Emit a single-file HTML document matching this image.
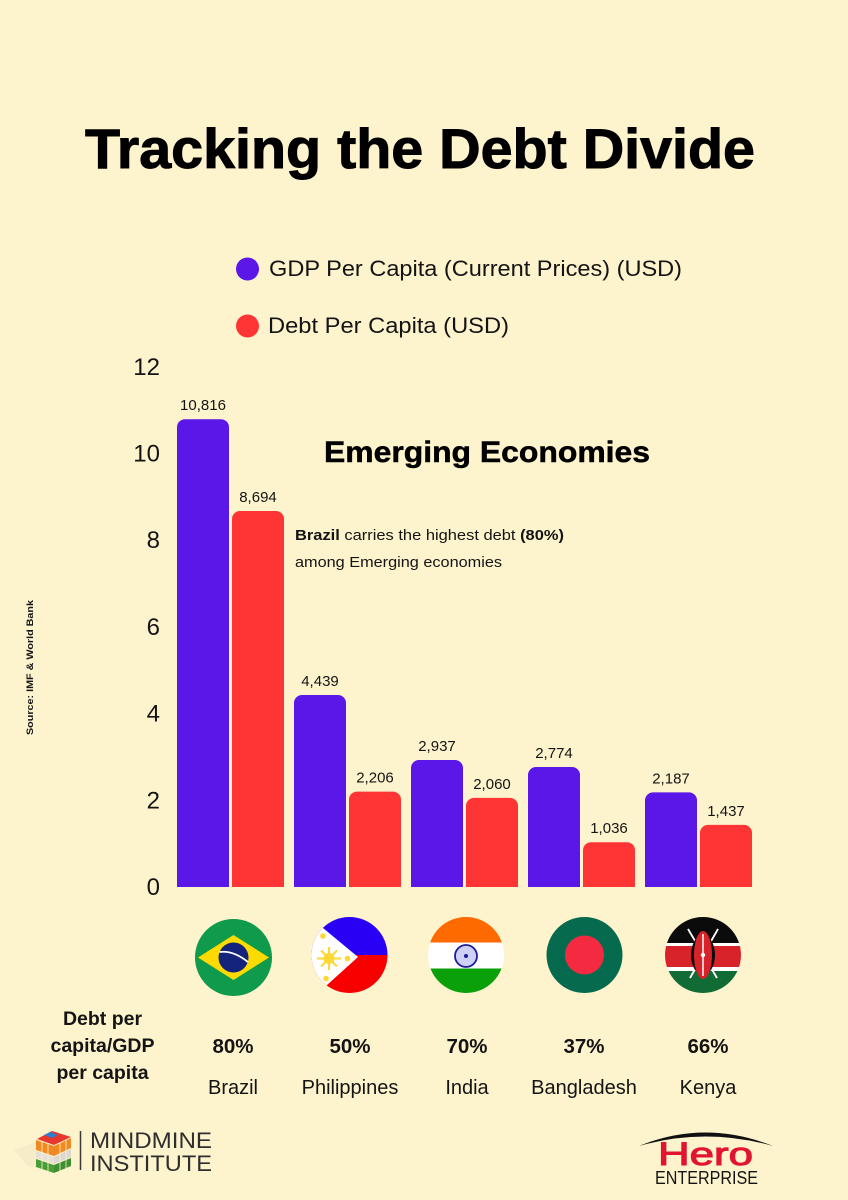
<!DOCTYPE html>
<html lang="en">
<head>
<meta charset="utf-8">
<title>Tracking the Debt Divide</title>
<style>
html,body{margin:0;padding:0;background:#fdf3cd;}
svg{display:block;}
text{font-family:"Liberation Sans",sans-serif;fill:#141414;}
.bold{font-weight:700;}
</style>
</head>
<body>
<svg id="chart" width="848" height="1200" viewBox="0 0 848 1200" xmlns="http://www.w3.org/2000/svg">
<rect width="848" height="1200" fill="#fdf3cd"/>
<text class="bold" x="85" y="168" font-size="56" textLength="670" lengthAdjust="spacingAndGlyphs" stroke="#000" stroke-width="1" style="fill:#000">Tracking the Debt Divide</text>

<g>
<circle cx="247.500" cy="269" r="11.500" fill="#5a17e8"/>
<text x="269" y="276" font-size="22" textLength="413" lengthAdjust="spacingAndGlyphs">GDP Per Capita (Current Prices) (USD)</text>
<circle cx="247.500" cy="326" r="11.500" fill="#ff3434"/>
<text x="268" y="333" font-size="22" textLength="241" lengthAdjust="spacingAndGlyphs">Debt Per Capita (USD)</text>
</g>

<g id="y-axis"></g>
<g id="bars"></g>
<g id="bar-labels"></g>
<g id="ratios"></g>
<g id="countries"></g>

<text class="bold" x="324" y="462" font-size="30" textLength="326" lengthAdjust="spacingAndGlyphs" stroke="#000" stroke-width="0.5" style="fill:#000">Emerging Economies</text>
<text x="295" y="540" font-size="15" textLength="269" lengthAdjust="spacingAndGlyphs"><tspan class="bold">Brazil</tspan> carries the highest debt <tspan class="bold">(80%)</tspan></text>
<text x="295" y="567" font-size="15" textLength="207" lengthAdjust="spacingAndGlyphs">among Emerging economies</text>
<text class="bold" transform="translate(33 735) rotate(-90)" font-size="9.500" textLength="135" lengthAdjust="spacingAndGlyphs">Source: IMF &amp; World Bank</text>

<defs>
<clipPath id="clip-ph"><circle cx="349.500" cy="955" r="38"/></clipPath>
<clipPath id="clip-in"><circle cx="466" cy="955" r="38"/></clipPath>
<clipPath id="clip-ke"><circle cx="703" cy="955" r="38"/></clipPath>
</defs>

<g>
<circle cx="233.500" cy="957.500" r="38.500" fill="#0f9a4c"/>
<polygon points="198,957.500 233.500,935 269,957.500 233.500,980" fill="#fedb00"/>
<circle cx="233.500" cy="957.500" r="15" fill="#14247c"/>
<path d="M219.500,952 Q233,950 248,962" stroke="#fff" stroke-width="1.800" fill="none"/>
</g>

<g clip-path="url(#clip-ph)">
<rect x="311" y="917" width="78" height="38" fill="#2a00f5"/>
<rect x="311" y="955" width="78" height="38" fill="#f90000"/>
<polygon points="311,917 323,928 358,957 327,985 311,993" fill="#fff"/>
<g stroke="#fdd835" stroke-width="2">
<line x1="317" y1="958.500" x2="341" y2="958.500"/>
<line x1="329" y1="947" x2="329" y2="970"/>
<line x1="321" y1="950.500" x2="337" y2="966.500"/>
<line x1="337" y1="950.500" x2="321" y2="966.500"/>
</g>
<circle cx="329" cy="958.500" r="5.500" fill="#fdd835"/>
<circle cx="323" cy="936" r="2.800" fill="#fdd835"/>
<circle cx="347.500" cy="958.500" r="2.800" fill="#fdd835"/>
<circle cx="326" cy="978.500" r="2.800" fill="#fdd835"/>
</g>

<g clip-path="url(#clip-in)">
<rect x="428" y="917" width="76" height="25.500" fill="#ff6a00"/>
<rect x="428" y="942.500" width="76" height="26" fill="#fff"/>
<rect x="428" y="968.500" width="76" height="25" fill="#09a009"/>
<circle cx="466" cy="956" r="11" fill="#cfd0f5" stroke="#1a1a9c" stroke-width="1.800"/>
<circle cx="466" cy="956" r="2" fill="#1a1a9c"/>
</g>

<g>
<circle cx="584.500" cy="955" r="38" fill="#066a4f"/>
<circle cx="584.500" cy="955" r="19.500" fill="#f42a41"/>
</g>

<g clip-path="url(#clip-ke)">
<rect x="665" y="917" width="76" height="26" fill="#0b0b0b"/>
<rect x="665" y="943" width="76" height="3" fill="#fff"/>
<rect x="665" y="946" width="76" height="21" fill="#d8232a"/>
<rect x="665" y="967" width="76" height="4" fill="#fff"/>
<rect x="665" y="971" width="76" height="22" fill="#116b35"/>
<line x1="688" y1="929" x2="717" y2="978" stroke="#fff" stroke-width="1.800"/>
<line x1="718" y1="929" x2="690" y2="978" stroke="#fff" stroke-width="1.800"/>
<ellipse cx="703" cy="955" rx="12" ry="20" fill="#0b0b0b"/>
<ellipse cx="703" cy="955" rx="9" ry="24" fill="#d8232a"/>
<line x1="703" y1="934" x2="703" y2="976" stroke="#fff" stroke-width="1.500"/>
<circle cx="703" cy="955" r="2.200" fill="#fff"/>
</g>

<g>
<text class="bold" x="102.500" y="1025" font-size="19.500" text-anchor="middle">Debt per</text>
<text class="bold" x="102.500" y="1052" font-size="19.500" text-anchor="middle">capita/GDP</text>
<text class="bold" x="102.500" y="1079" font-size="19.500" text-anchor="middle">per capita</text>
</g>

<g>
<polygon points="14,1150 36,1142 36,1168 28,1166" fill="#f6ecc8"/>
<polygon points="37,1139 52,1131 71,1137 54,1145" fill="#e8372c"/>
<polygon points="44,1135 50,1132 58,1135 52,1138" fill="#2f7fd0"/>
<polygon points="36,1140 54,1146 54,1156 36,1150" fill="#ef8a22"/>
<polygon points="54,1146 71,1138 71,1148 54,1156" fill="#ef8a22"/>
<polygon points="36,1151 54,1157 54,1164 36,1158" fill="#e6e1d6"/>
<polygon points="54,1157 71,1149 71,1157 54,1164" fill="#dcd8cf"/>
<polygon points="36,1159 54,1165 54,1173 36,1167" fill="#4a9e37"/>
<polygon points="54,1165 71,1158 71,1166 54,1173" fill="#3f9030"/>
<g stroke="#fdf3cd" stroke-width="0.800">
<line x1="42" y1="1142" x2="42" y2="1169"/>
<line x1="48" y1="1144" x2="48" y2="1171"/>
<line x1="60" y1="1143" x2="60" y2="1171"/>
<line x1="66" y1="1140" x2="66" y2="1168"/>
</g>
<line x1="80.500" y1="1131" x2="80.500" y2="1170" stroke="#3a3a3a" stroke-width="1.500"/>
<text x="90" y="1148" font-size="22" textLength="122" lengthAdjust="spacingAndGlyphs" style="fill:#2e2e2e">MINDMINE</text>
<text x="90" y="1171" font-size="22" textLength="122" lengthAdjust="spacingAndGlyphs" style="fill:#2e2e2e">INSTITUTE</text>
</g>

<g>
<path d="M639,1146 Q705,1119 773,1146 Q705,1127 639,1146 Z" fill="#111"/>
<text x="658" y="1165" font-size="32" textLength="95" lengthAdjust="spacingAndGlyphs" stroke="#e2152f" stroke-width="1" style="fill:#e2152f">Hero</text>
<text x="655" y="1184" font-size="18" textLength="103" lengthAdjust="spacingAndGlyphs">ENTERPRISE</text>
</g>
</svg>

<script>
const categories = ["Brazil", "Philippines", "India", "Bangladesh", "Kenya"];
const gdpPerCapita = [10816, 4439, 2937, 2774, 2187];
const debtPerCapita = [8694, 2206, 2060, 1036, 1437];
const debtRatioLabels = ["80%", "50%", "70%", "37%", "66%"];
const yTickLabels = [0, 2, 4, 6, 8, 10, 12];

const NS = "http://www.w3.org/2000/svg";
const baseY = 887, thousandPx = 43.25;
const groupStart = 177, groupStep = 117, barW = 52, barGap = 3, cornerR = 8;
const yScale = function (v) { return baseY - v * thousandPx / 1000; };
const xScale = function (i, s) { return groupStart + i * groupStep + s * (barW + barGap); };
const tickY = function (t) { return baseY - t * 43.35; };

function make(tag, parent, attrs, txt) {
  const el = document.createElementNS(NS, tag);
  for (const k in attrs) el.setAttribute(k, attrs[k]);
  if (txt !== undefined) el.textContent = txt;
  parent.appendChild(el);
  return el;
}
function barPath(x, y) {
  const r = Math.min(cornerR, baseY - y);
  return "M" + x + "," + baseY + "V" + (y + r) + "A" + r + "," + r + " 0 0 1 " + (x + r) + "," + y +
    "H" + (x + barW - r) + "A" + r + "," + r + " 0 0 1 " + (x + barW) + "," + (y + r) + "V" + baseY + "Z";
}

const yAxisG = document.getElementById("y-axis");
const barsG = document.getElementById("bars");
const labelsG = document.getElementById("bar-labels");
const ratiosG = document.getElementById("ratios");
const countriesG = document.getElementById("countries");

yTickLabels.forEach(function (t) {
  const el = make("text", yAxisG, { x: 160, y: tickY(t) + 8, "font-size": 24, "text-anchor": "end" }, String(t));
  
  
});

function drawSeries(values, s, color, name) {
  values.forEach(function (v, i) {
    const x = xScale(i, s), y = yScale(v);
    const bar = make("path", barsG, { d: barPath(x, y), fill: color });
    
    
    const lab = make("text", labelsG, { x: x + barW / 2, y: y - 9, "font-size": 15, "text-anchor": "middle" }, v.toLocaleString("en-US"));
    
    
  });
}
drawSeries(gdpPerCapita, 0, "#5a17e8", "gdp");
drawSeries(debtPerCapita, 1, "#ff3434", "debt");

categories.forEach(function (c, i) {
  const cx = xScale(i, 0) + barW + barGap / 2 + 2.5 + (i === 4 ? 7 : 0);
  const ratio = make("text", ratiosG, { x: cx, y: 1053, "font-size": 20.5, "text-anchor": "middle", class: "bold" }, debtRatioLabels[i]);
  
  
  const name = make("text", countriesG, { x: cx, y: 1094, "font-size": 20, "text-anchor": "middle" }, c);
  
  
});
</script>
</body>
</html>
